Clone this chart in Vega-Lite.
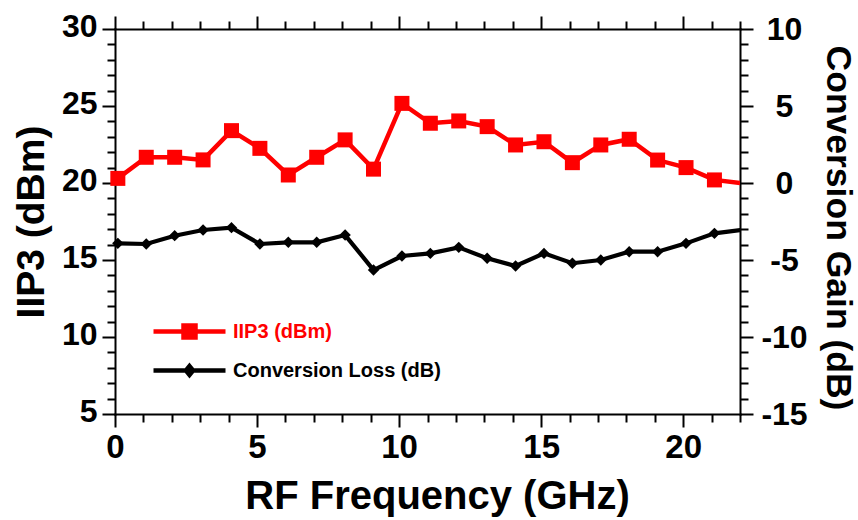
{
  "$schema": "https://vega.github.io/schema/vega-lite/v6.json",
  "width": 625,
  "height": 385,
  "autosize": {"type": "none"},
  "padding": {"left": 115, "top": 29, "right": 118, "bottom": 106},
  "background": "white",
  "data": {"values": [
    {"freq": 0.1, "iip3": 20.3, "cg": -3.92},
    {"freq": 1.1, "iip3": 21.67, "cg": -3.96},
    {"freq": 2.1, "iip3": 21.67, "cg": -3.42},
    {"freq": 3.1, "iip3": 21.5, "cg": -3.05},
    {"freq": 4.1, "iip3": 23.4, "cg": -2.9},
    {"freq": 5.1, "iip3": 22.25, "cg": -3.96},
    {"freq": 6.1, "iip3": 20.52, "cg": -3.85},
    {"freq": 7.1, "iip3": 21.67, "cg": -3.85},
    {"freq": 8.1, "iip3": 22.8, "cg": -3.38},
    {"freq": 9.1, "iip3": 20.9, "cg": -5.65},
    {"freq": 10.1, "iip3": 25.17, "cg": -4.74},
    {"freq": 11.1, "iip3": 23.88, "cg": -4.57},
    {"freq": 12.1, "iip3": 24.03, "cg": -4.18},
    {"freq": 13.1, "iip3": 23.66, "cg": -4.89},
    {"freq": 14.1, "iip3": 22.47, "cg": -5.39},
    {"freq": 15.1, "iip3": 22.68, "cg": -4.57},
    {"freq": 16.1, "iip3": 21.32, "cg": -5.21},
    {"freq": 17.1, "iip3": 22.47, "cg": -5.0},
    {"freq": 18.1, "iip3": 22.84, "cg": -4.46},
    {"freq": 19.1, "iip3": 21.49, "cg": -4.46},
    {"freq": 20.1, "iip3": 21.0, "cg": -3.92},
    {"freq": 21.1, "iip3": 20.2, "cg": -3.27},
    {"freq": 22.3, "iip3": 19.93, "cg": -2.98}
  ]},
  "layer": [
    {
      "encoding": {
        "x": {
          "field": "freq", "type": "quantitative",
          "scale": {"domain": [0, 22], "nice": false, "zero": false},
          "axis": {
            "orient": "bottom",
            "values": [0,1,2,3,4,5,6,7,8,9,10,11,12,13,14,15,16,17,18,19,20,21,22],
            "labelExpr": "datum.value % 5 === 0 ? datum.label : ''",
            "tickSize": {"condition": {"test": "datum.value % 5 === 0", "value": 13}, "value": 8},
            "labelFontSize": 33,
            "labelPadding": 4,
            "title": "RF Frequency (GHz)",
            "titleFontSize": 40,
            "titleX": 322,
            "titleY": 94,
            "titleAlign": "center",
            "titleBaseline": "alphabetic"
          }
        },
        "y": {
          "field": "iip3", "type": "quantitative",
          "scale": {"domain": [5, 30], "nice": false, "zero": false},
          "axis": {
            "orient": "left",
            "values": [5,6,7,8,9,10,11,12,13,14,15,16,17,18,19,20,21,22,23,24,25,26,27,28,29,30],
            "labelExpr": "datum.value % 5 === 0 ? datum.label : ''",
            "tickSize": {"condition": {"test": "datum.value % 5 === 0", "value": 13}, "value": 8},
            "labelFontSize": 32,
            "labelPadding": 5,
            "labelOffset": -3,
            "labelAlign": "right",
            "labelBaseline": "middle",
            "title": "IIP3 (dBm)",
            "titleFontSize": 39,
            "titleAngle": -90,
            "titleX": -72,
            "titleY": 192.5,
            "titleAlign": "center",
            "titleBaseline": "alphabetic"
          }
        },
        "color": {
          "datum": "IIP3 (dBm)", "type": "nominal",
          "scale": {"domain": ["IIP3 (dBm)", "Conversion Loss (dB)"], "range": ["#ff0000", "#000000"]},
          "legend": {
            "orient": "none",
            "legendX": 64,
            "legendY": 292,
            "title": null,
            "padding": 0,
            "symbolType": "M-4.5,0H4.5",
            "symbolSize": 256,
            "symbolStrokeWidth": 4.5,
            "labelFont": "Liberation Sans",
            "labelFontSize": 20,
            "labelFontWeight": "bold",
            "labelOffset": 33,
            "labelLimit": 400,
            "rowPadding": 10,
            "encode": {
              "symbols": {
                "update": {
                  "shape": {"signal": "datum.value === 'IIP3 (dBm)' ? 'M-4.5,0H4.5M-0.75,-0.75H0.75V0.75H-0.75Z' : 'M-4.5,0H4.5M0,-0.55L0.45,0L0,0.55L-0.45,0Z'"},
                  "fill": {"signal": "datum.value === 'IIP3 (dBm)' ? '#ff0000' : '#000000'"},
                  "stroke": {"signal": "datum.value === 'IIP3 (dBm)' ? '#ff0000' : '#000000'"},
                  "strokeWidth": {"value": 4.5},
                  "opacity": {"value": 1}
                }
              },
              "labels": {
                "update": {
                  "fill": {"signal": "datum.value === 'IIP3 (dBm)' ? '#ff0000' : '#000000'"}
                }
              }
            }
          }
        }
      },
      "layer": [
        {"mark": {"type": "line", "strokeWidth": 4.5, "clip": true}},
        {"transform": [{"filter": "datum.freq <= 22"}], "mark": {"type": "point", "shape": "square", "size": 225, "filled": true, "opacity": 1}}
      ]
    },
    {
      "encoding": {
        "x": {
          "field": "freq", "type": "quantitative",
          "scale": {"domain": [0, 22], "nice": false, "zero": false},
          "axis": {
            "orient": "top",
            "values": [0,1,2,3,4,5,6,7,8,9,10,11,12,13,14,15,16,17,18,19,20,21,22],
            "labels": false,
            "tickSize": {"condition": {"test": "datum.value % 5 === 0", "value": 13}, "value": 8},
            "title": null
          }
        },
        "y": {
          "field": "cg", "type": "quantitative",
          "scale": {"domain": [-15, 10], "nice": false, "zero": false},
          "axis": {
            "orient": "right",
            "values": [-15,-14,-13,-12,-11,-10,-9,-8,-7,-6,-5,-4,-3,-2,-1,0,1,2,3,4,5,6,7,8,9,10],
            "labelExpr": "datum.value % 5 === 0 ? '' + datum.value : ''",
            "tickSize": {"condition": {"test": "datum.value % 5 === 0", "value": 13}, "value": 8},
            "labelFontSize": 32,
            "labelPadding": 31,
            "labelAlign": "center",
            "labelBaseline": "middle",
            "title": "Conversion Gain (dB)",
            "titleFontSize": 35.5,
            "titleAngle": 90,
            "titleX": 86,
            "titleY": 198.5,
            "titleAlign": "center",
            "titleBaseline": "alphabetic"
          }
        },
        "color": {"datum": "Conversion Loss (dB)", "type": "nominal"}
      },
      "layer": [
        {"mark": {"type": "line", "strokeWidth": 4.2, "clip": true}},
        {"transform": [{"filter": "datum.freq <= 22"}], "mark": {"type": "point", "shape": "diamond", "size": 130, "filled": true, "opacity": 1}}
      ]
    }
  ],
  "resolve": {"scale": {"y": "independent"}, "axis": {"x": "independent"}},
  "config": {
    "view": {"stroke": null},
    "font": "Liberation Sans",
    "axis": {
      "grid": false,
      "domainColor": "#000000",
      "domainWidth": 2,
      "domainCap": "square",
      "tickColor": "#000000",
      "tickWidth": 2,
      "labelFont": "Liberation Sans",
      "labelFontWeight": "bold",
      "labelColor": "#000000",
      "labelOverlap": false,
      "labelFlush": false,
      "labelBound": false,
      "titleFont": "Liberation Sans",
      "titleFontWeight": "bold",
      "titleColor": "#000000"
    }
  }
}
